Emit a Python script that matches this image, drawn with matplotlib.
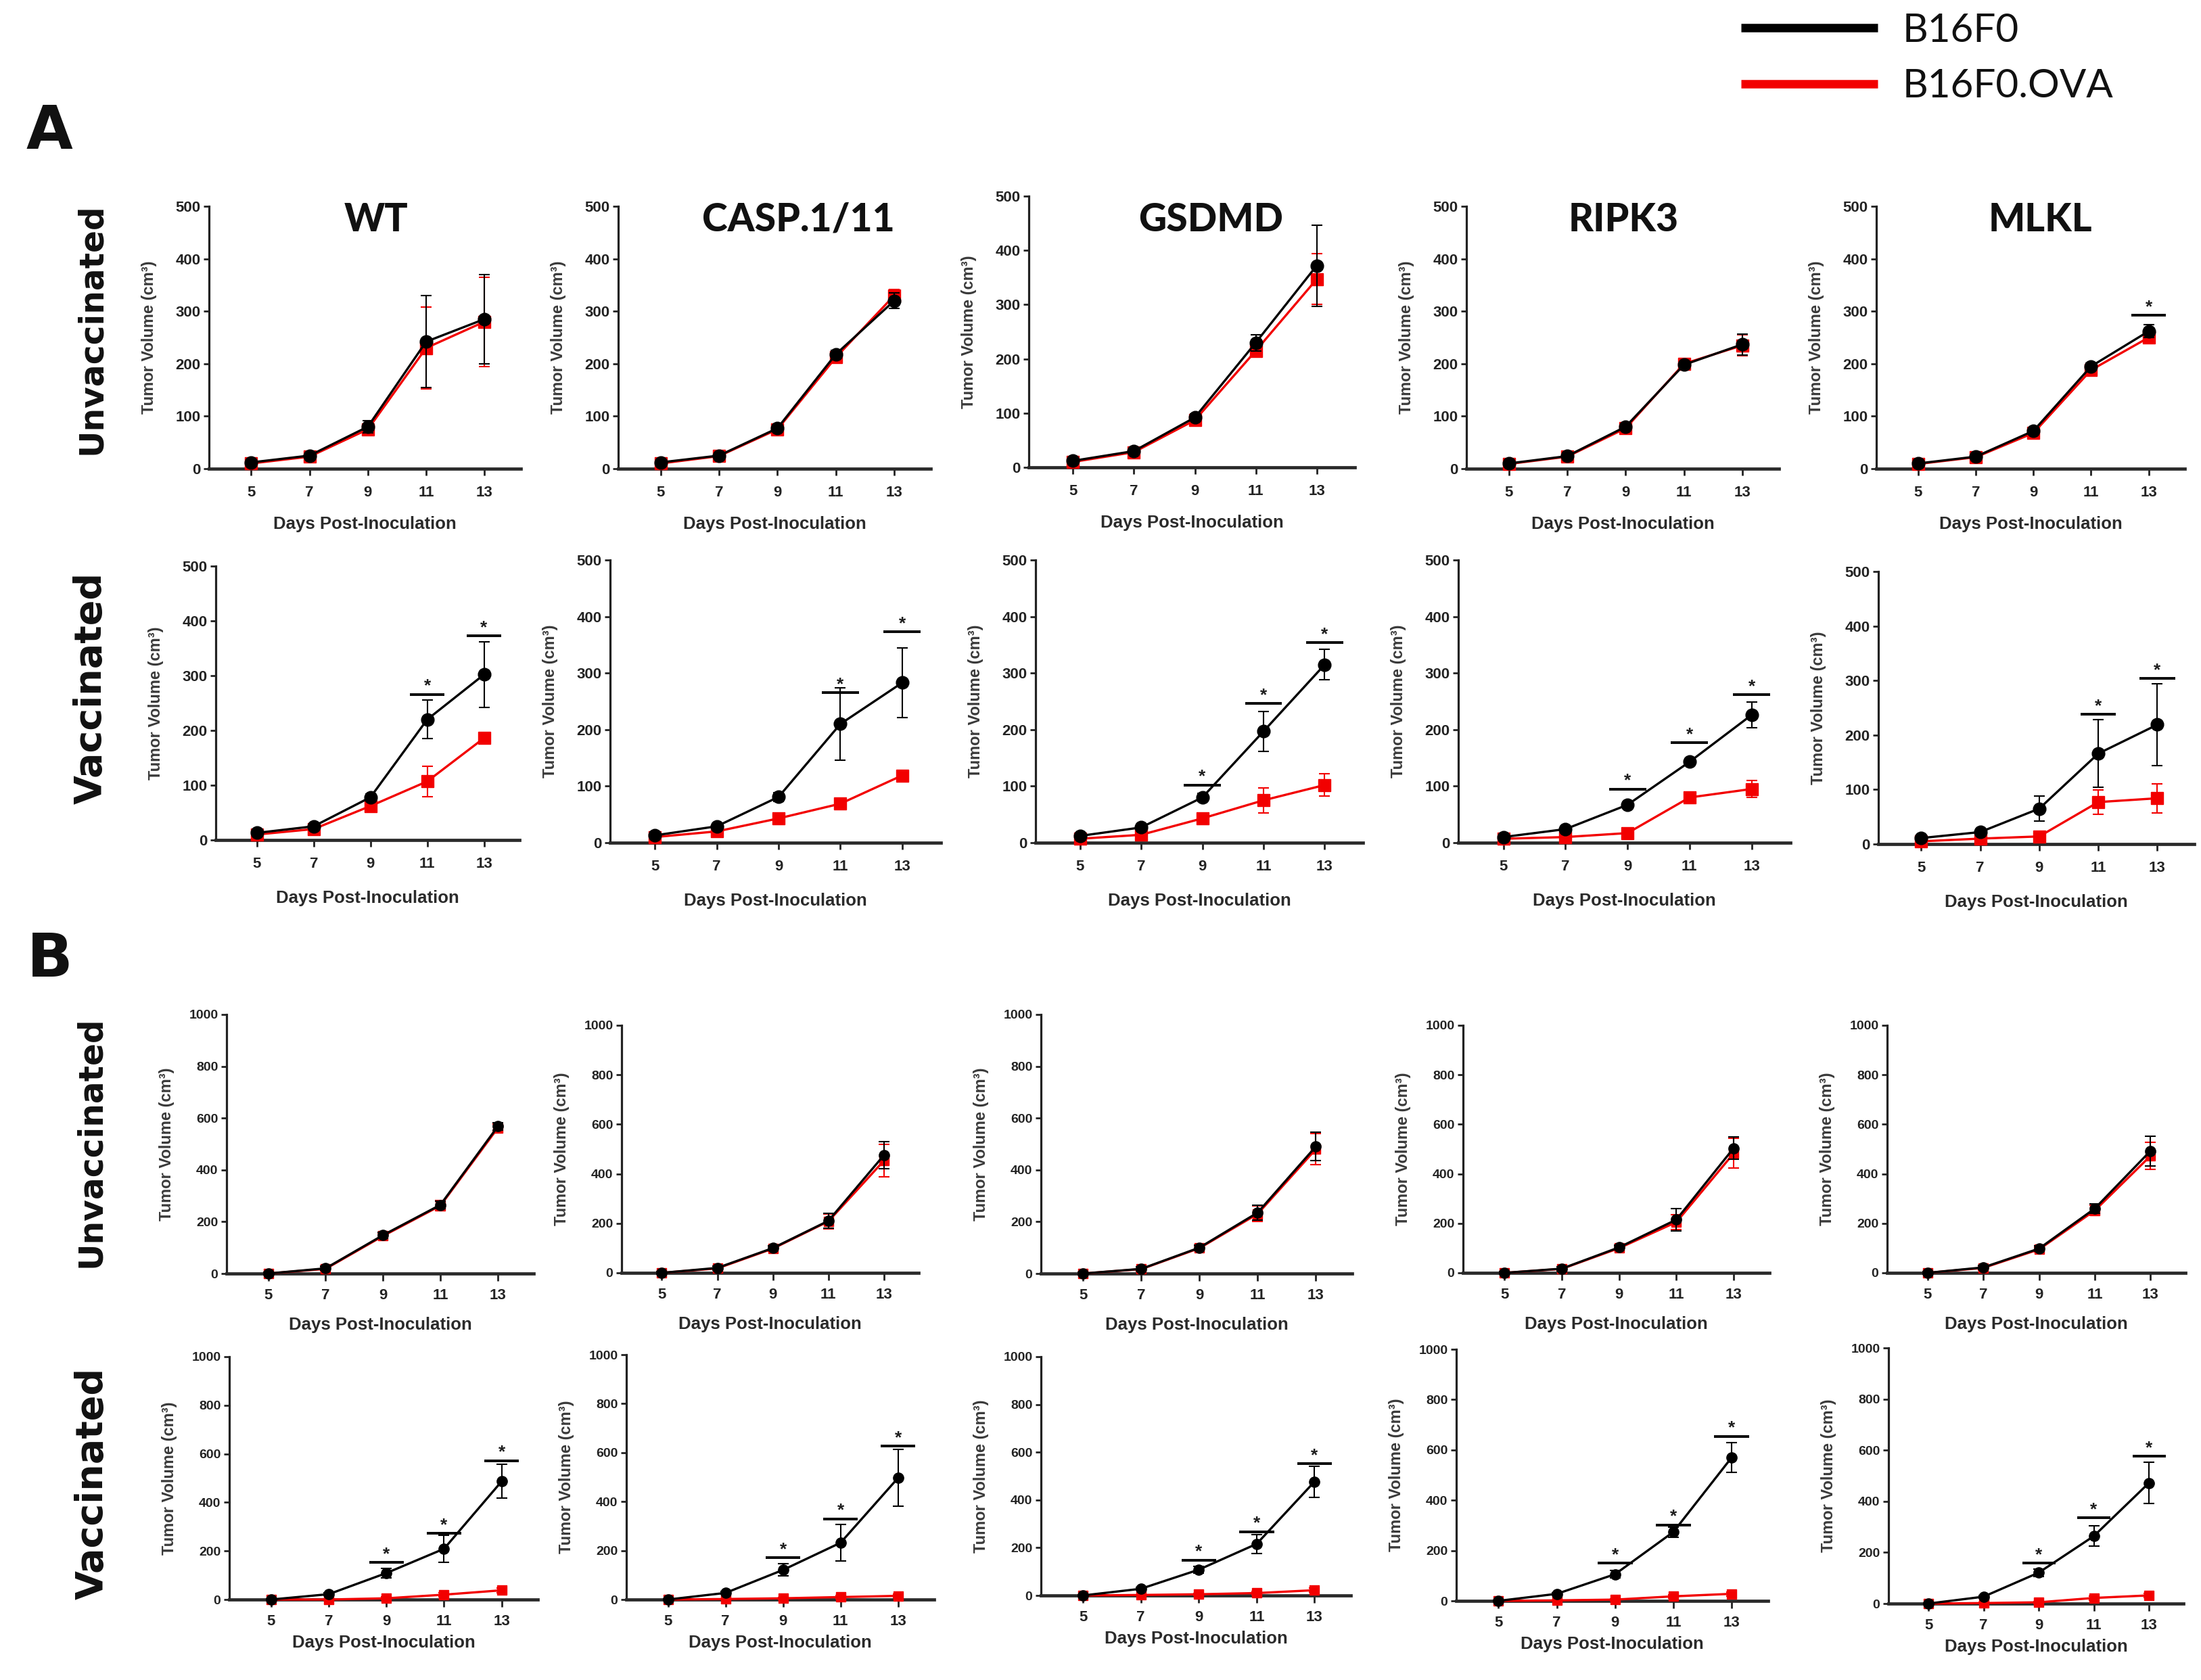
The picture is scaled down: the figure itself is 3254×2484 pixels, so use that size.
import matplotlib
matplotlib.use("Agg")
import matplotlib.pyplot as plt
from matplotlib import font_manager
from matplotlib.lines import Line2D

# ---------------- data ----------------
days = [5, 7, 9, 11, 13]
genotypes = ["WT", "CASP.1/11", "GSDMD", "RIPK3", "MLKL"]
series_names = ["B16F0", "B16F0.OVA"]
row_names = ["Unvaccinated", "Vaccinated"]
yticks_A = [0, 100, 200, 300, 400, 500]
yticks_B = [0, 200, 400, 600, 800, 1000]

A_unvac_b16_mean = [[12, 25, 80, 242, 285],
                    [12, 25, 77, 218, 320],
                    [12, 30, 92, 230, 372],
                    [10, 24, 80, 198, 237],
                    [10, 23, 72, 195, 262]]
A_unvac_b16_sem = [[3, 4, 12, 88, 85],
                   [3, 3, 5, 8, 15],
                   [3, 4, 6, 15, 75],
                   [3, 3, 5, 6, 20],
                   [3, 3, 5, 6, 12]]
A_unvac_ova_mean = [[10, 23, 75, 230, 280],
                    [10, 24, 75, 212, 330],
                    [10, 28, 87, 215, 347],
                    [9, 23, 77, 200, 235],
                    [9, 22, 68, 188, 250]]
A_unvac_ova_sem = [[3, 3, 10, 78, 85],
                   [3, 3, 5, 8, 12],
                   [3, 3, 5, 10, 47],
                   [3, 3, 5, 6, 20],
                   [3, 3, 5, 6, 10]]
A_unvac_sig = [[], [], [], [], [(13, 292)]]

A_vac_b16_mean = [[13, 25, 78, 220, 302],
                  [13, 29, 81, 210, 283],
                  [12, 27, 80, 197, 315],
                  [10, 24, 67, 143, 226],
                  [11, 22, 65, 166, 219]]
A_vac_b16_sem = [[3, 4, 6, 35, 60],
                 [3, 4, 8, 64, 62],
                 [3, 4, 7, 35, 27],
                 [3, 3, 5, 5, 23],
                 [3, 3, 23, 62, 75]]
A_vac_ova_mean = [[10, 20, 62, 107, 186],
                  [10, 20, 43, 69, 119],
                  [7, 14, 43, 75, 102],
                  [7, 10, 17, 80, 95],
                  [5, 10, 14, 77, 84]]
A_vac_ova_sem = [[3, 3, 5, 28, 6],
                 [3, 3, 5, 5, 6],
                 [3, 3, 6, 22, 20],
                 [3, 3, 4, 8, 15],
                 [3, 3, 4, 22, 27]]
A_vac_sig = [[(11, 266), (13, 373)],
             [(11, 265), (13, 373)],
             [(9, 102), (11, 246), (13, 354)],
             [(9, 95), (11, 177), (13, 262)],
             [(11, 238), (13, 304)]]

B_unvac_b16_mean = [[0, 20, 148, 265, 568],
                    [0, 20, 100, 210, 475],
                    [0, 18, 100, 235, 490],
                    [0, 17, 103, 215, 504],
                    [0, 22, 98, 260, 493]]
B_unvac_b16_sem = [[5, 8, 12, 15, 15],
                   [5, 8, 10, 30, 54],
                   [5, 8, 10, 30, 55],
                   [5, 8, 10, 45, 45],
                   [5, 8, 10, 20, 60]]
B_unvac_ova_mean = [[0, 18, 145, 262, 562],
                    [0, 18, 98, 208, 453],
                    [0, 17, 98, 230, 480],
                    [0, 16, 100, 205, 483],
                    [0, 20, 95, 252, 473]]
B_unvac_ova_sem = [[5, 8, 12, 20, 15],
                   [5, 8, 10, 30, 66],
                   [5, 8, 10, 30, 60],
                   [5, 8, 10, 30, 60],
                   [5, 8, 10, 20, 55]]
B_unvac_sig = [[], [], [], [], []]

B_vac_b16_mean = [[0, 22, 109, 209, 487],
                  [0, 27, 121, 232, 497],
                  [0, 28, 108, 216, 477],
                  [0, 28, 106, 274, 570],
                  [0, 27, 121, 264, 472]]
B_vac_b16_sem = [[3, 5, 20, 55, 70],
                 [3, 5, 25, 75, 115],
                 [3, 5, 15, 40, 65],
                 [3, 5, 15, 20, 60],
                 [3, 5, 15, 40, 80]]
B_vac_ova_mean = [[0, 0, 5, 20, 38],
                  [0, 2, 5, 10, 15],
                  [0, 2, 5, 10, 22],
                  [0, 2, 5, 18, 28],
                  [0, 2, 5, 22, 32]]
B_vac_ova_sem = [[2, 2, 5, 8, 10],
                 [2, 2, 4, 6, 8],
                 [2, 2, 4, 6, 8],
                 [2, 2, 4, 6, 8],
                 [2, 2, 4, 8, 8]]
B_vac_sig = [[(9, 152), (11, 272), (13, 572)],
             [(9, 171), (11, 330), (13, 626)],
             [(9, 148), (11, 267), (13, 551)],
             [(9, 151), (11, 302), (13, 654)],
             [(9, 159), (11, 335), (13, 577)]]

# ---------------- layout (pixels in the 3255x2484 canvas) ----------------
W, H = 3255, 2484
DPI = 100
rows_layout = [
    # lefts, rights, tops (y of max tick), bottoms (y of zero), xlabel offset
    dict(l=[309, 914, 1521, 2168, 2774], r=[770, 1376, 2003, 2630, 3230],
         t=[305, 305, 290, 305, 305], b=[693, 693, 691, 693, 693], xl=70),
    dict(l=[319, 902, 1531, 2156, 2777], r=[768, 1391, 2015, 2647, 3244],
         t=[837, 828, 828, 828, 845], b=[1242, 1246, 1246, 1246, 1248], xl=74),
    dict(l=[335, 919, 1539, 2163, 2790], r=[789, 1358, 1999, 2616, 3231],
         t=[1500, 1516, 1500, 1516, 1516], b=[1883, 1882, 1883, 1882, 1882], xl=64),
    dict(l=[339, 926, 1539, 2153, 2792], r=[795, 1381, 1997, 2614, 3228],
         t=[2006, 2003, 2006, 1995, 1993], b=[2365, 2365, 2359, 2367, 2371], xl=52),
]

avail = {f.name for f in font_manager.fontManager.ttflist}
NARROW = 'Liberation Sans Narrow' if 'Liberation Sans Narrow' in avail else 'Liberation Sans'
SANS = 'Liberation Sans'
TITLE = 'Lato' if 'Lato' in avail else 'DejaVu Sans'
HEAVY = 'DejaVu Sans'
RED = '#f20000'
INK = '#1e1e1e'

fig = plt.figure(figsize=(W / DPI, H / DPI), dpi=DPI)
fig.patch.set_facecolor('white')


def fx(x):
    return x / W


def fy(y):
    return 1 - y / H


def draw_panel(ax, b_mean, b_sem, o_mean, o_sem, sig, yticks, big, xl_px, w_px, h_px):
    ymax = yticks[-1]
    ms = 13.5 if big else 11
    for mean, sem, col, mk, z, m in [(o_mean, o_sem, RED, 's', 3, ms * 0.95),
                                     (b_mean, b_sem, 'black', 'o', 4, ms)]:
        cont = ax.errorbar(days, mean, yerr=sem, color=col, lw=2.4, marker=mk, ms=m,
                           mec=col, mfc=col, capsize=5.5, capthick=1.5, elinewidth=1.5,
                           ecolor=col, zorder=z)
        for ch in cont.get_children():
            ch.set_clip_on(False)
    bar_half = 0.6
    for d, yb in sig:
        ax.plot([d - bar_half, d + bar_half], [yb, yb], color='black', lw=2.8,
                clip_on=False, zorder=5, solid_capstyle='butt')
        ax.annotate('*', (d, yb), xytext=(0, 0), textcoords='offset points',
                    ha='center', va='bottom', fontsize=19, fontweight='bold',
                    family=SANS, color=INK, annotation_clip=False)
    ax.set_xlim(3.55, 14.25)
    ax.set_ylim(0, ymax)
    ax.set_xticks(days)
    ax.set_xticklabels([str(d) for d in days], fontsize=16, fontweight='bold',
                       family=NARROW, color=INK)
    ax.set_yticks(yticks)
    ax.set_yticklabels([str(v) for v in yticks], fontsize=16 if big else 14,
                       fontweight='bold', family=NARROW, color=INK)
    for s in ['top', 'right']:
        ax.spines[s].set_visible(False)
    ax.spines['left'].set_linewidth(2.3)
    ax.spines['bottom'].set_linewidth(3.4)
    ax.spines['left'].set_color('#222222')
    ax.spines['bottom'].set_color('#2a2a2a')
    ax.spines['left'].set_bounds(0, ymax)
    ax.tick_params(axis='y', direction='out', length=6, width=2, pad=3, colors='#222222')
    ax.tick_params(axis='x', direction='out', length=7 if big else 8, width=2,
                   pad=11 if big else 8, colors='#222222')
    ax.set_xlabel('Days Post-Inoculation', fontsize=18.5, fontweight='bold', family=SANS,
                  color='#2a2a2a')
    ax.xaxis.set_label_coords(0.5, -xl_px / h_px)
    ax.set_ylabel('Tumor Volume (cm³)', fontsize=17, fontweight='bold', family=SANS,
                  color='#3a3a3a')
    ax.yaxis.set_label_coords(-77 / w_px, 0.5)
    ax.patch.set_alpha(0)


row_data = [
    (A_unvac_b16_mean, A_unvac_b16_sem, A_unvac_ova_mean, A_unvac_ova_sem, A_unvac_sig, yticks_A, True),
    (A_vac_b16_mean, A_vac_b16_sem, A_vac_ova_mean, A_vac_ova_sem, A_vac_sig, yticks_A, True),
    (B_unvac_b16_mean, B_unvac_b16_sem, B_unvac_ova_mean, B_unvac_ova_sem, B_unvac_sig, yticks_B, False),
    (B_vac_b16_mean, B_vac_b16_sem, B_vac_ova_mean, B_vac_ova_sem, B_vac_sig, yticks_B, False),
]

for lay, (bm, bs, om, os_, sg, yt, big) in zip(rows_layout, row_data):
    for i in range(5):
        l, r, t, b = lay['l'][i], lay['r'][i], lay['t'][i], lay['b'][i]
        ax = fig.add_axes([fx(l), fy(b), (r - l) / W, (b - t) / H])
        draw_panel(ax, bm[i], bs[i], om[i], os_[i], sg[i], yt, big, lay['xl'], r - l, b - t)

# genotype titles (row A unvaccinated)
title_x = [556, 1180, 1790, 2400, 3016]
for g, x in zip(genotypes, title_x):
    fig.text(fx(x), fy(325), g, ha='center', va='center', fontsize=41,
             fontweight=900, family=TITLE, color='#111111')

# row labels
row_label_pos = [(135, 486, row_names[0], 35), (135, 1017, row_names[1], 40),
                 (134, 1688, row_names[0], 35), (137, 2193, row_names[1], 40)]
for x, y, txt, fs in row_label_pos:
    fig.text(fx(x), fy(y), txt, rotation=90, ha='center', va='center', fontsize=fs,
             fontweight='bold', family=HEAVY, color='#111111')

# panel letters
fig.text(fx(73), fy(195), 'A', ha='center', va='center', fontsize=64,
         fontweight='bold', family=HEAVY, color='#111111')
fig.text(fx(74), fy(1420), 'B', ha='center', va='center', fontsize=64,
         fontweight='bold', family=HEAVY, color='#111111')

# legend
for name, col, y in [(series_names[0], 'black', 41), (series_names[1], RED, 124)]:
    fig.add_artist(Line2D([fx(2574), fx(2776)], [fy(y), fy(y)], color=col, lw=9,
                          solid_capstyle='butt'))
    fig.text(fx(2813), fy(y + 4), name, ha='left', va='center', fontsize=42,
             family=TITLE, color='#111111')

fig.savefig('out.png', dpi=DPI, facecolor='white')
